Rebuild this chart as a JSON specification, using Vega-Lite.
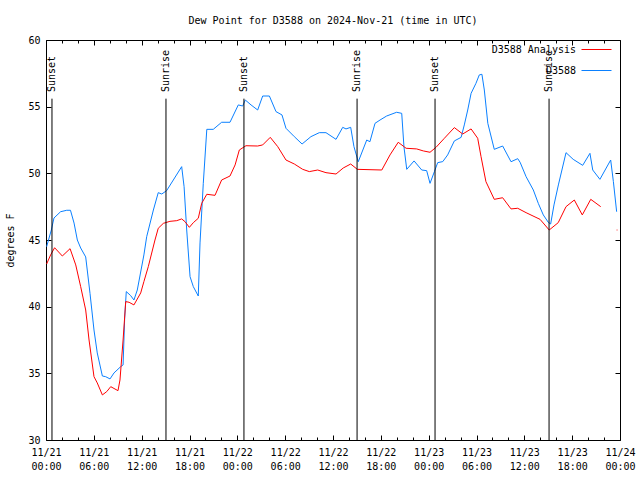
{
  "$schema": "https://vega.github.io/schema/vega-lite/v6.json",
  "width": 574,
  "height": 400,
  "autosize": {"type": "none"},
  "padding": {"left": 46, "top": 40, "right": 20, "bottom": 40},
  "background": "white",
  "title": {"text": "Dew Point for D3588 on 2024-Nov-21 (time in UTC)", "font": "DejaVu Sans Mono", "fontSize": 10, "fontWeight": "normal", "color": "black", "anchor": "middle", "offset": 8},
  "config": {
    "view": {"stroke": "black", "strokeWidth": 1},
    "axis": {"grid": false, "domainColor": "black", "tickColor": "black", "labelColor": "black", "labelFont": "DejaVu Sans Mono", "labelFontSize": 10, "titleFont": "DejaVu Sans Mono", "titleFontSize": 10, "titleFontWeight": "normal", "titleColor": "black"}
  },
  "datasets": {
    "obs": [
      {"h": 0.08, "v": 44.5, "s": "D3588", "g": 1},
      {"h": 0.67, "v": 45.75, "s": "D3588", "g": 1},
      {"h": 1.0, "v": 46.65, "s": "D3588", "g": 1},
      {"h": 1.83, "v": 47.12, "s": "D3588", "g": 1},
      {"h": 2.6, "v": 47.23, "s": "D3588", "g": 1},
      {"h": 3.07, "v": 47.23, "s": "D3588", "g": 1},
      {"h": 3.52, "v": 46.27, "s": "D3588", "g": 1},
      {"h": 3.93, "v": 45.0, "s": "D3588", "g": 1},
      {"h": 4.35, "v": 44.4, "s": "D3588", "g": 1},
      {"h": 4.98, "v": 43.73, "s": "D3588", "g": 1},
      {"h": 5.52, "v": 41.0, "s": "D3588", "g": 1},
      {"h": 6.02, "v": 38.25, "s": "D3588", "g": 1},
      {"h": 6.43, "v": 36.53, "s": "D3588", "g": 1},
      {"h": 7.07, "v": 34.8, "s": "D3588", "g": 1},
      {"h": 7.48, "v": 34.75, "s": "D3588", "g": 1},
      {"h": 8.03, "v": 34.58, "s": "D3588", "g": 1},
      {"h": 8.53, "v": 35.03, "s": "D3588", "g": 1},
      {"h": 9.37, "v": 35.5, "s": "D3588", "g": 1},
      {"h": 9.67, "v": 35.63, "s": "D3588", "g": 1},
      {"h": 9.87, "v": 39.15, "s": "D3588", "g": 1},
      {"h": 10.07, "v": 41.13, "s": "D3588", "g": 1},
      {"h": 10.62, "v": 40.83, "s": "D3588", "g": 1},
      {"h": 11.03, "v": 40.5, "s": "D3588", "g": 1},
      {"h": 11.45, "v": 41.25, "s": "D3588", "g": 1},
      {"h": 12.28, "v": 43.88, "s": "D3588", "g": 1},
      {"h": 12.63, "v": 45.25, "s": "D3588", "g": 1},
      {"h": 13.47, "v": 47.25, "s": "D3588", "g": 1},
      {"h": 14.08, "v": 48.55, "s": "D3588", "g": 1},
      {"h": 14.52, "v": 48.45, "s": "D3588", "g": 1},
      {"h": 15.13, "v": 48.7, "s": "D3588", "g": 1},
      {"h": 15.97, "v": 49.5, "s": "D3588", "g": 1},
      {"h": 17.02, "v": 50.5, "s": "D3588", "g": 1},
      {"h": 17.32, "v": 49.0, "s": "D3588", "g": 1},
      {"h": 17.65, "v": 45.75, "s": "D3588", "g": 1},
      {"h": 18.07, "v": 42.25, "s": "D3588", "g": 1},
      {"h": 18.48, "v": 41.5, "s": "D3588", "g": 1},
      {"h": 19.1, "v": 40.8, "s": "D3588", "g": 1},
      {"h": 19.32, "v": 44.78, "s": "D3588", "g": 1},
      {"h": 19.73, "v": 49.25, "s": "D3588", "g": 1},
      {"h": 20.17, "v": 53.3, "s": "D3588", "g": 1},
      {"h": 20.98, "v": 53.3, "s": "D3588", "g": 1},
      {"h": 22.03, "v": 53.83, "s": "D3588", "g": 1},
      {"h": 23.08, "v": 53.83, "s": "D3588", "g": 1},
      {"h": 24.12, "v": 55.13, "s": "D3588", "g": 1},
      {"h": 24.67, "v": 55.05, "s": "D3588", "g": 1},
      {"h": 25.0, "v": 55.5, "s": "D3588", "g": 1},
      {"h": 25.72, "v": 55.13, "s": "D3588", "g": 1},
      {"h": 26.55, "v": 54.75, "s": "D3588", "g": 1},
      {"h": 27.18, "v": 55.8, "s": "D3588", "g": 1},
      {"h": 28.02, "v": 55.8, "s": "D3588", "g": 1},
      {"h": 28.85, "v": 54.63, "s": "D3588", "g": 1},
      {"h": 29.6, "v": 54.38, "s": "D3588", "g": 1},
      {"h": 30.1, "v": 53.38, "s": "D3588", "g": 1},
      {"h": 31.15, "v": 52.75, "s": "D3588", "g": 1},
      {"h": 32.12, "v": 52.2, "s": "D3588", "g": 1},
      {"h": 33.23, "v": 52.75, "s": "D3588", "g": 1},
      {"h": 34.28, "v": 53.05, "s": "D3588", "g": 1},
      {"h": 35.12, "v": 53.05, "s": "D3588", "g": 1},
      {"h": 36.38, "v": 52.55, "s": "D3588", "g": 1},
      {"h": 37.22, "v": 53.45, "s": "D3588", "g": 1},
      {"h": 37.63, "v": 53.33, "s": "D3588", "g": 1},
      {"h": 38.22, "v": 53.45, "s": "D3588", "g": 1},
      {"h": 38.63, "v": 52.0, "s": "D3588", "g": 1},
      {"h": 39.17, "v": 50.87, "s": "D3588", "g": 1},
      {"h": 40.23, "v": 52.5, "s": "D3588", "g": 1},
      {"h": 40.63, "v": 52.37, "s": "D3588", "g": 1},
      {"h": 41.27, "v": 53.75, "s": "D3588", "g": 1},
      {"h": 41.9, "v": 54.0, "s": "D3588", "g": 1},
      {"h": 42.73, "v": 54.3, "s": "D3588", "g": 1},
      {"h": 43.98, "v": 54.58, "s": "D3588", "g": 1},
      {"h": 44.62, "v": 54.5, "s": "D3588", "g": 1},
      {"h": 44.9, "v": 52.0, "s": "D3588", "g": 1},
      {"h": 45.25, "v": 50.3, "s": "D3588", "g": 1},
      {"h": 46.17, "v": 50.93, "s": "D3588", "g": 1},
      {"h": 47.13, "v": 50.25, "s": "D3588", "g": 1},
      {"h": 47.75, "v": 50.2, "s": "D3588", "g": 1},
      {"h": 48.17, "v": 49.25, "s": "D3588", "g": 1},
      {"h": 48.72, "v": 50.13, "s": "D3588", "g": 1},
      {"h": 49.13, "v": 50.8, "s": "D3588", "g": 1},
      {"h": 49.77, "v": 50.88, "s": "D3588", "g": 1},
      {"h": 50.38, "v": 51.38, "s": "D3588", "g": 1},
      {"h": 51.22, "v": 52.43, "s": "D3588", "g": 1},
      {"h": 52.07, "v": 52.7, "s": "D3588", "g": 1},
      {"h": 52.47, "v": 53.63, "s": "D3588", "g": 1},
      {"h": 52.9, "v": 54.75, "s": "D3588", "g": 1},
      {"h": 53.32, "v": 56.0, "s": "D3588", "g": 1},
      {"h": 53.93, "v": 56.75, "s": "D3588", "g": 1},
      {"h": 54.35, "v": 57.38, "s": "D3588", "g": 1},
      {"h": 54.68, "v": 57.43, "s": "D3588", "g": 1},
      {"h": 54.98, "v": 56.25, "s": "D3588", "g": 1},
      {"h": 55.42, "v": 53.75, "s": "D3588", "g": 1},
      {"h": 56.23, "v": 51.8, "s": "D3588", "g": 1},
      {"h": 57.28, "v": 52.05, "s": "D3588", "g": 1},
      {"h": 58.33, "v": 50.87, "s": "D3588", "g": 1},
      {"h": 59.17, "v": 51.1, "s": "D3588", "g": 1},
      {"h": 59.47, "v": 50.83, "s": "D3588", "g": 1},
      {"h": 60.22, "v": 49.75, "s": "D3588", "g": 1},
      {"h": 61.13, "v": 48.75, "s": "D3588", "g": 1},
      {"h": 61.75, "v": 47.75, "s": "D3588", "g": 1},
      {"h": 62.38, "v": 46.88, "s": "D3588", "g": 1},
      {"h": 63.0, "v": 46.33, "s": "D3588", "g": 1},
      {"h": 63.3, "v": 46.2, "s": "D3588", "g": 1},
      {"h": 63.72, "v": 47.63, "s": "D3588", "g": 1},
      {"h": 64.27, "v": 49.13, "s": "D3588", "g": 1},
      {"h": 65.23, "v": 51.55, "s": "D3588", "g": 1},
      {"h": 66.13, "v": 51.05, "s": "D3588", "g": 1},
      {"h": 67.32, "v": 50.6, "s": "D3588", "g": 1},
      {"h": 68.23, "v": 51.5, "s": "D3588", "g": 1},
      {"h": 68.58, "v": 50.25, "s": "D3588", "g": 1},
      {"h": 69.48, "v": 49.55, "s": "D3588", "g": 1},
      {"h": 70.83, "v": 51.0, "s": "D3588", "g": 1},
      {"h": 71.17, "v": 49.38, "s": "D3588", "g": 1},
      {"h": 71.58, "v": 47.12, "s": "D3588", "g": 1},
      {"h": 0.08, "v": 43.2, "s": "D3588 Analysis", "g": 1},
      {"h": 0.58, "v": 43.88, "s": "D3588 Analysis", "g": 1},
      {"h": 1.08, "v": 44.42, "s": "D3588 Analysis", "g": 1},
      {"h": 2.05, "v": 43.8, "s": "D3588 Analysis", "g": 1},
      {"h": 3.02, "v": 44.35, "s": "D3588 Analysis", "g": 1},
      {"h": 3.73, "v": 43.13, "s": "D3588 Analysis", "g": 1},
      {"h": 4.35, "v": 41.5, "s": "D3588 Analysis", "g": 1},
      {"h": 4.98, "v": 39.75, "s": "D3588 Analysis", "g": 1},
      {"h": 5.4, "v": 37.5, "s": "D3588 Analysis", "g": 1},
      {"h": 6.02, "v": 34.75, "s": "D3588 Analysis", "g": 1},
      {"h": 6.43, "v": 34.28, "s": "D3588 Analysis", "g": 1},
      {"h": 7.07, "v": 33.38, "s": "D3588 Analysis", "g": 1},
      {"h": 7.62, "v": 33.63, "s": "D3588 Analysis", "g": 1},
      {"h": 8.12, "v": 34.0, "s": "D3588 Analysis", "g": 1},
      {"h": 9.03, "v": 33.7, "s": "D3588 Analysis", "g": 1},
      {"h": 9.28, "v": 34.5, "s": "D3588 Analysis", "g": 1},
      {"h": 9.67, "v": 37.5, "s": "D3588 Analysis", "g": 1},
      {"h": 10.0, "v": 40.38, "s": "D3588 Analysis", "g": 1},
      {"h": 10.42, "v": 40.33, "s": "D3588 Analysis", "g": 1},
      {"h": 11.03, "v": 40.13, "s": "D3588 Analysis", "g": 1},
      {"h": 11.88, "v": 41.03, "s": "D3588 Analysis", "g": 1},
      {"h": 12.28, "v": 41.88, "s": "D3588 Analysis", "g": 1},
      {"h": 12.83, "v": 43.0, "s": "D3588 Analysis", "g": 1},
      {"h": 13.67, "v": 45.0, "s": "D3588 Analysis", "g": 1},
      {"h": 14.08, "v": 45.88, "s": "D3588 Analysis", "g": 1},
      {"h": 14.72, "v": 46.25, "s": "D3588 Analysis", "g": 1},
      {"h": 15.55, "v": 46.4, "s": "D3588 Analysis", "g": 1},
      {"h": 16.4, "v": 46.45, "s": "D3588 Analysis", "g": 1},
      {"h": 17.02, "v": 46.58, "s": "D3588 Analysis", "g": 1},
      {"h": 17.43, "v": 46.38, "s": "D3588 Analysis", "g": 1},
      {"h": 17.98, "v": 45.95, "s": "D3588 Analysis", "g": 1},
      {"h": 18.48, "v": 46.3, "s": "D3588 Analysis", "g": 1},
      {"h": 19.1, "v": 46.63, "s": "D3588 Analysis", "g": 1},
      {"h": 19.53, "v": 47.75, "s": "D3588 Analysis", "g": 1},
      {"h": 20.17, "v": 48.43, "s": "D3588 Analysis", "g": 1},
      {"h": 21.2, "v": 48.35, "s": "D3588 Analysis", "g": 1},
      {"h": 22.03, "v": 49.5, "s": "D3588 Analysis", "g": 1},
      {"h": 23.08, "v": 49.8, "s": "D3588 Analysis", "g": 1},
      {"h": 23.72, "v": 50.63, "s": "D3588 Analysis", "g": 1},
      {"h": 24.25, "v": 51.75, "s": "D3588 Analysis", "g": 1},
      {"h": 25.08, "v": 52.07, "s": "D3588 Analysis", "g": 1},
      {"h": 26.55, "v": 52.05, "s": "D3588 Analysis", "g": 1},
      {"h": 27.18, "v": 52.13, "s": "D3588 Analysis", "g": 1},
      {"h": 28.13, "v": 52.7, "s": "D3588 Analysis", "g": 1},
      {"h": 29.07, "v": 52.0, "s": "D3588 Analysis", "g": 1},
      {"h": 30.1, "v": 51.0, "s": "D3588 Analysis", "g": 1},
      {"h": 31.15, "v": 50.7, "s": "D3588 Analysis", "g": 1},
      {"h": 32.2, "v": 50.3, "s": "D3588 Analysis", "g": 1},
      {"h": 33.03, "v": 50.13, "s": "D3588 Analysis", "g": 1},
      {"h": 34.08, "v": 50.25, "s": "D3588 Analysis", "g": 1},
      {"h": 35.12, "v": 50.05, "s": "D3588 Analysis", "g": 1},
      {"h": 36.38, "v": 49.95, "s": "D3588 Analysis", "g": 1},
      {"h": 37.28, "v": 50.4, "s": "D3588 Analysis", "g": 1},
      {"h": 38.22, "v": 50.7, "s": "D3588 Analysis", "g": 1},
      {"h": 39.05, "v": 50.3, "s": "D3588 Analysis", "g": 1},
      {"h": 42.12, "v": 50.25, "s": "D3588 Analysis", "g": 1},
      {"h": 43.15, "v": 51.38, "s": "D3588 Analysis", "g": 1},
      {"h": 44.18, "v": 52.33, "s": "D3588 Analysis", "g": 1},
      {"h": 45.17, "v": 51.88, "s": "D3588 Analysis", "g": 1},
      {"h": 46.5, "v": 51.83, "s": "D3588 Analysis", "g": 1},
      {"h": 47.33, "v": 51.68, "s": "D3588 Analysis", "g": 1},
      {"h": 48.17, "v": 51.58, "s": "D3588 Analysis", "g": 1},
      {"h": 48.92, "v": 51.95, "s": "D3588 Analysis", "g": 1},
      {"h": 49.97, "v": 52.63, "s": "D3588 Analysis", "g": 1},
      {"h": 51.22, "v": 53.43, "s": "D3588 Analysis", "g": 1},
      {"h": 52.27, "v": 52.95, "s": "D3588 Analysis", "g": 1},
      {"h": 53.32, "v": 53.33, "s": "D3588 Analysis", "g": 1},
      {"h": 54.15, "v": 52.63, "s": "D3588 Analysis", "g": 1},
      {"h": 54.57, "v": 51.25, "s": "D3588 Analysis", "g": 1},
      {"h": 55.18, "v": 49.38, "s": "D3588 Analysis", "g": 1},
      {"h": 56.23, "v": 48.05, "s": "D3588 Analysis", "g": 1},
      {"h": 57.28, "v": 48.17, "s": "D3588 Analysis", "g": 1},
      {"h": 58.33, "v": 47.33, "s": "D3588 Analysis", "g": 1},
      {"h": 59.17, "v": 47.38, "s": "D3588 Analysis", "g": 1},
      {"h": 60.22, "v": 47.05, "s": "D3588 Analysis", "g": 1},
      {"h": 61.97, "v": 46.55, "s": "D3588 Analysis", "g": 1},
      {"h": 63.12, "v": 45.75, "s": "D3588 Analysis", "g": 1},
      {"h": 64.25, "v": 46.3, "s": "D3588 Analysis", "g": 1},
      {"h": 65.23, "v": 47.5, "s": "D3588 Analysis", "g": 1},
      {"h": 66.27, "v": 48.0, "s": "D3588 Analysis", "g": 1},
      {"h": 67.27, "v": 46.88, "s": "D3588 Analysis", "g": 1},
      {"h": 68.33, "v": 48.05, "s": "D3588 Analysis", "g": 1},
      {"h": 69.58, "v": 47.5, "s": "D3588 Analysis", "g": 1},
      {"h": 71.58, "v": 45.75, "s": "D3588 Analysis", "g": 2},
      {"h": 71.68, "v": 45.75, "s": "D3588 Analysis", "g": 2}
    ],
    "sun": [
      {"h": 0.75, "e": "Sunset"},
      {"h": 15.05, "e": "Sunrise"},
      {"h": 24.83, "e": "Sunset"},
      {"h": 39.02, "e": "Sunrise"},
      {"h": 48.8, "e": "Sunset"},
      {"h": 63.1, "e": "Sunrise"}
    ]
  },
  "resolve": {"axis": {"x": "independent", "y": "independent"}},
  "layer": [
    {
      "data": {"name": "obs"},
      "mark": {"type": "line", "strokeWidth": 1},
      "encoding": {
        "x": {"field": "h", "type": "quantitative",
          "scale": {"domain": [0, 72], "nice": false, "zero": false},
          "axis": {"orient": "bottom", "title": null, "domain": false, "tickCount": 40, "values": [0, 2, 4, 6, 8, 10, 12, 14, 16, 18, 20, 22, 24, 26, 28, 30, 32, 34, 36, 38, 40, 42, 44, 46, 48, 50, 52, 54, 56, 58, 60, 62, 64, 66, 68, 70, 72], "labelOverlap": false, "labelFlush": false, "labelBound": false, "labelLineHeight": 14, "labelPadding": 12,
            "tickSize": {"condition": {"test": "datum.value % 6 === 0", "value": -5}, "value": -3},
            "labelExpr": "datum.value % 6 === 0 ? ['11/' + (21 + floor(datum.value / 24)), (datum.value % 24 < 10 ? '0' : '') + (datum.value % 24) + ':00'] : ''"}},
        "y": {"field": "v", "type": "quantitative", "scale": {"domain": [30, 60]},
          "axis": {"orient": "left", "title": "degrees F", "domain": false, "values": [30, 35, 40, 45, 50, 55, 60], "tickSize": -5, "labelPadding": 11, "titlePadding": 12}},
        "color": {"field": "s", "type": "nominal", "scale": {"domain": ["D3588 Analysis", "D3588"], "range": ["#ff0000", "#0a80ff"]},
          "legend": {"title": null, "orient": "none", "legendX": 535, "legendY": -6, "padding": 0, "symbolType": "stroke", "symbolStrokeWidth": 1, "symbolSize": 900, "rowPadding": -16, "labelAlign": "right", "labelOffset": -36, "labelFont": "DejaVu Sans Mono", "labelFontSize": 10, "labelColor": "black"}},
        "detail": {"field": "g", "type": "nominal"}
      }
    },
    {
      "data": {"name": "sun"},
      "mark": {"type": "rule", "color": "black", "strokeWidth": 1},
      "encoding": {
        "x": {"field": "h", "type": "quantitative",
          "axis": {"orient": "top", "title": null, "labels": false, "domain": false, "tickCount": 40, "values": [0, 2, 4, 6, 8, 10, 12, 14, 16, 18, 20, 22, 24, 26, 28, 30, 32, 34, 36, 38, 40, 42, 44, 46, 48, 50, 52, 54, 56, 58, 60, 62, 64, 66, 68, 70, 72],
            "tickSize": {"condition": {"test": "datum.value % 6 === 0", "value": -5}, "value": -3}}},
        "y": {"datum": 55.6, "type": "quantitative",
          "axis": {"orient": "right", "title": null, "labels": false, "domain": false, "values": [30, 35, 40, 45, 50, 55, 60], "tickSize": -5}},
        "y2": {"datum": 30}
      }
    },
    {
      "data": {"name": "sun"},
      "mark": {"type": "text", "angle": 270, "align": "left", "baseline": "middle", "font": "DejaVu Sans Mono", "fontSize": 10, "color": "black"},
      "encoding": {
        "x": {"field": "h", "type": "quantitative", "axis": null},
        "y": {"datum": 56.1, "type": "quantitative", "axis": null},
        "text": {"field": "e"}
      }
    }
  ]
}
